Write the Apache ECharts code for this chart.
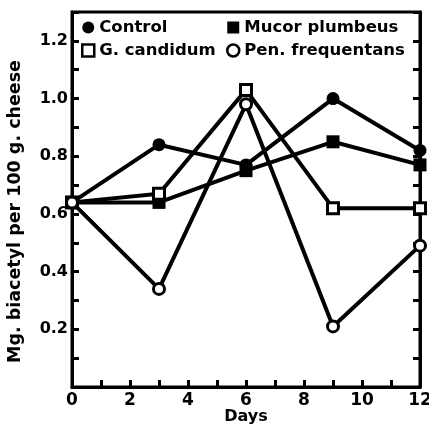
<!DOCTYPE html>
<html>
<head>
<meta charset="utf-8">
<script src="https://cdn.jsdelivr.net/npm/echarts@6/dist/echarts.min.js"></script>
<style>html,body{margin:0;padding:0;background:#fff}#c{width:429px;height:428px}</style>
</head>
<body>
<div id="c"></div>
<script>
var days = [0, 3, 6, 9, 12];
var control = [0.64, 0.84, 0.77, 1.00, 0.82];
var mucor = [0.64, 0.64, 0.75, 0.85, 0.77];
var candidum = [0.64, 0.67, 1.03, 0.62, 0.62];
var penicillium = [0.64, 0.34, 0.98, 0.21, 0.49];
var xTickLabels = ['0', '2', '4', '6', '8', '10', '12'];
var yTickLabels = ['0.2', '0.4', '0.6', '0.8', '1.0', '1.2'];

var FONT = 'DejaVu Sans';
function pairs(vals) { return days.map(function (d, i) { return [d, vals[i]]; }); }

function mk(name, vals, symbol, filled) {
  return {
    name: name, type: 'line', data: pairs(vals), symbol: symbol,
    symbolSize: filled ? 13 : 11, clip: false,
    lineStyle: { color: '#000', width: 4 },
    itemStyle: { color: filled ? '#000' : '#fff', borderColor: '#000', borderWidth: filled ? 0 : 3, opacity: 1 },
    emphasis: { disabled: true }, animation: false, z: filled ? 2 : 3
  };
}

var chart = echarts.init(document.getElementById('c'));
var legendText = { fontFamily: FONT, fontWeight: 'bold', fontSize: 16.5, color: '#000' };
function legItem(name, icon, filled) {
  return { name: name, icon: icon, itemStyle: { color: filled ? '#000' : '#fff', borderColor: '#000', borderWidth: filled ? 0 : 2.5 } };
}
chart.setOption({
  animation: false,
  grid: { left: 72, right: 9, top: 12, bottom: 41, show: true, borderColor: '#000', borderWidth: 3, backgroundColor: 'transparent',
    containLabel: false, outerBoundsMode: 'none' },
  legend: [
    { orient: 'vertical', left: 81, top: 19, itemGap: 6, itemWidth: 12, itemHeight: 12, textStyle: legendText, padding: 0,
      selectedMode: false,
      data: [legItem('Control', 'circle', true), legItem('G. candidum', 'rect', false)] },
    { orient: 'vertical', left: 226, top: 19, itemGap: 6, itemWidth: 12, itemHeight: 12, textStyle: legendText, padding: 0,
      selectedMode: false,
      data: [legItem('Mucor plumbeus', 'rect', true), legItem('Pen. frequentans', 'circle', false)] }
  ],
  xAxis: {
    type: 'value', min: 0, max: 12, interval: 1,
    name: 'Days', nameLocation: 'middle', nameGap: 22, nameMoveOverlap: false,
    nameTextStyle: { fontFamily: FONT, fontWeight: 'bold', fontSize: 16, color: '#000' },
    axisLine: { show: true, lineStyle: { color: '#000', width: 3 } },
    axisTick: { show: true, inside: true, length: 7, lineStyle: { color: '#000', width: 3 } },
    splitLine: { show: false },
    axisLabel: { fontFamily: FONT, fontWeight: 'bold', fontSize: 17, color: '#000', margin: 5,
      formatter: function (v) { var s = String(Math.round(v)); return xTickLabels.indexOf(s) >= 0 ? s : ''; } }
  },
  yAxis: [{
    type: 'value', min: 0, max: 1.3, interval: 0.1,
    name: 'Mg. biacetyl per 100 g. cheese', nameLocation: 'middle', nameGap: 48, nameRotate: 90, nameMoveOverlap: false,
    nameTextStyle: { fontFamily: FONT, fontWeight: 'bold', fontSize: 17.5, color: '#000', padding: [0, 24, 0, 0] },
    axisLine: { show: true, lineStyle: { color: '#000', width: 3 } },
    axisTick: { show: true, inside: true, length: 7, lineStyle: { color: '#000', width: 3 } },
    splitLine: { show: false },
    axisLabel: { fontFamily: FONT, fontWeight: 'bold', fontSize: 16, color: '#000', margin: 4,
      formatter: function (v) { var s = (Math.round(v * 10) / 10).toFixed(1); return yTickLabels.indexOf(s) >= 0 ? s : ''; } }
  }, {
    type: 'value', min: 0, max: 1.3, interval: 0.1, position: 'right',
    axisLine: { show: true, lineStyle: { color: '#000', width: 3 } },
    axisTick: { show: true, inside: true, length: 7, lineStyle: { color: '#000', width: 3 } },
    splitLine: { show: false }, axisLabel: { show: false }
  }],
  series: [
    mk('Control', control, 'circle', true),
    mk('Mucor plumbeus', mucor, 'rect', true),
    mk('G. candidum', candidum, 'rect', false),
    mk('Pen. frequentans', penicillium, 'circle', false)
  ]
});
</script>
</body>
</html>
